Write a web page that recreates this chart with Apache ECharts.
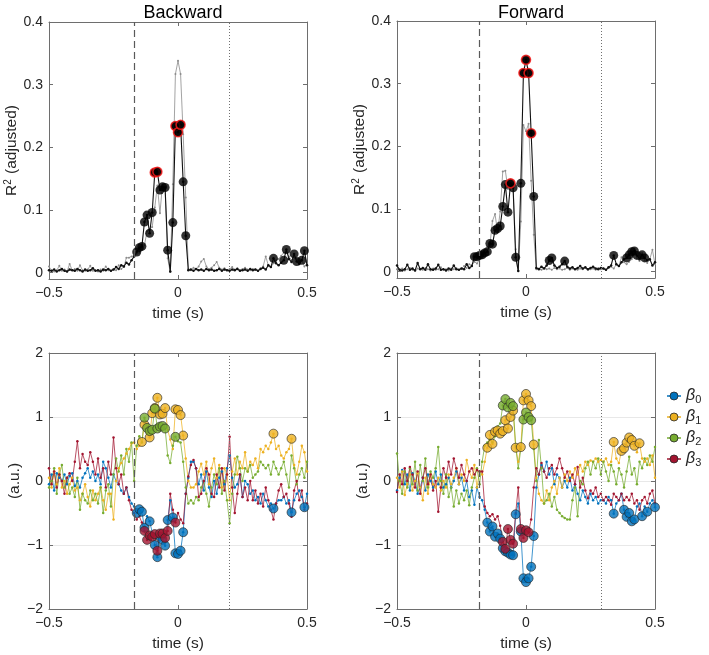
<!DOCTYPE html>
<html><head><meta charset="utf-8">
<script src="https://cdn.jsdelivr.net/npm/echarts@6/dist/echarts.min.js"></script>
<style>html,body{margin:0;padding:0;background:#fff}#c{width:709px;height:655px}</style>
</head><body><div id="c"></div>
<script>
// ---------- DATA ----------
const times = [-0.5,-0.49,-0.48,-0.47,-0.46,-0.45,-0.44,-0.43,-0.42,-0.41,
-0.4,-0.39,-0.38,-0.37,-0.36,-0.35,-0.34,-0.33,-0.32,-0.31,
-0.3,-0.29,-0.28,-0.27,-0.26,-0.25,-0.24,-0.23,-0.22,-0.21,
-0.2,-0.19,-0.18,-0.17,-0.16,-0.15,-0.14,-0.13,-0.12,-0.11,
-0.1,-0.09,-0.08,-0.07,-0.06,-0.05,-0.04,-0.03,-0.02,-0.01,
0,0.01,0.02,0.03,0.04,0.05,0.06,0.07,0.08,0.09,
0.1,0.11,0.12,0.13,0.14,0.15,0.16,0.17,0.18,0.19,
0.2,0.21,0.22,0.23,0.24,0.25,0.26,0.27,0.28,0.29,
0.3,0.31,0.32,0.33,0.34,0.35,0.36,0.37,0.38,0.39,
0.4,0.41,0.42,0.43,0.44,0.45,0.46,0.47,0.48,0.49,0.5];

const xTicks = [-0.5, 0, 0.5];
const r2Ticks = [0, 0.1, 0.2, 0.3, 0.4];
const betaTicks = [-2, -1, 0, 1, 2];
const betaNames = ['β0', 'β1', 'β2', 'β3'];

// onset (dashed) and offset (dotted) markers, seconds
const backwardOnset = -0.175, backwardOffset = 0.204;
const forwardOnset = -0.177, forwardOffset = 0.29;

const r2Backward = [
0.004,0.003,0.005,0.002,0.004,0.006,0.003,0.002,0.005,0.004,
0.003,0.006,0.004,0.002,0.005,0.003,0.004,0.007,0.003,0.004,
0.002,0.005,0.004,0.006,0.003,0.005,0.009,0.006,0.012,0.010,
0.016,0.013,0.020,0.026,0.033,0.040,0.042,0.081,0.092,0.063,
0.096,0.160,0.161,0.132,0.137,0.136,0.036,0.002,0.080,0.234,
0.224,0.236,0.145,0.059,0.004,0.005,0.003,0.006,0.004,0.005,
0.003,0.006,0.004,0.005,0.003,0.004,0.006,0.003,0.005,0.004,
0.003,0.005,0.004,0.006,0.003,0.004,0.005,0.003,0.006,0.004,
0.005,0.003,0.006,0.008,0.005,0.012,0.009,0.023,0.015,0.012,
0.016,0.020,0.037,0.022,0.017,0.030,0.018,0.014,0.020,0.035,0.012];
const r2BackwardSig = [34,35,36,37,38,39,40,41,42,43,44,45,46,48,49,50,51,52,53,87,91,92,95,96,98,99];
const r2BackwardTop = [41,42,49,50,51];

const r2Forward = [
0.010,0.003,0.002,0.004,0.011,0.003,0.005,0.002,0.014,0.004,
0.006,0.003,0.012,0.004,0.003,0.005,0.011,0.003,0.004,0.002,
0.005,0.003,0.010,0.004,0.003,0.005,0.004,0.012,0.006,0.009,
0.024,0.024,0.026,0.027,0.030,0.032,0.045,0.044,0.066,0.069,
0.073,0.104,0.139,0.095,0.141,0.134,0.023,0.001,0.141,0.317,
0.338,0.317,0.221,0.120,0.006,0.004,0.008,0.005,0.010,0.018,
0.022,0.010,0.006,0.008,0.012,0.017,0.008,0.005,0.007,0.004,
0.006,0.009,0.005,0.007,0.004,0.006,0.008,0.005,0.004,0.006,
0.005,0.003,0.007,0.010,0.026,0.012,0.009,0.015,0.020,0.022,
0.027,0.032,0.033,0.026,0.020,0.027,0.022,0.018,0.020,0.010,0.015];
const r2ForwardSig = [30,31,32,33,34,35,36,37,38,39,40,41,42,43,44,45,46,48,49,50,51,52,53,59,60,65,84,89,90,91,92,93,95,96];
const r2ForwardTop = [44,49,50,51,52];

// Backward betas
const bwBeta0 = [
-0.05,0.10,-0.15,0.12,0.05,0.00,0.10,-0.05,0.08,0.12,
-0.08,0.00,-0.10,0.05,0.12,0.20,0.05,0.15,0.00,0.10,
-0.05,0.30,0.20,0.05,-0.10,0.10,0.00,-0.05,-0.15,-0.20,
-0.10,-0.25,-0.35,-0.40,-0.50,-0.44,-0.48,-0.73,-0.55,-0.63,
-0.80,-1.00,-1.19,-0.87,-0.92,-1.01,-0.61,-0.30,-0.57,-1.13,
-1.14,-1.09,-0.80,-0.20,0.05,0.30,0.30,0.20,-0.05,0.10,
-0.15,0.15,-0.10,-0.25,0.00,-0.20,0.05,0.15,-0.05,0.20,
0.40,0.05,-0.10,-0.05,0.10,-0.25,0.00,-0.05,-0.20,-0.15,
-0.30,-0.25,-0.35,-0.20,-0.30,-0.40,-0.35,-0.43,-0.35,-0.30,
-0.30,-0.25,-0.35,-0.30,-0.49,-0.30,-0.20,-0.15,-0.25,-0.41,-0.20];
const bwBeta0Sig = [34,35,36,37,39,41,42,43,44,45,46,48,49,50,51,52,87,94,99];

const bwBeta1 = [
0.05,-0.10,0.15,-0.05,0.20,-0.10,0.00,-0.20,-0.05,0.05,
-0.15,-0.10,-0.30,-0.20,-0.05,-0.25,-0.40,-0.15,-0.30,-0.20,
-0.10,-0.30,-0.45,-0.20,-0.20,-0.60,0.00,0.20,0.28,0.35,
0.43,0.50,0.59,0.60,0.50,0.55,0.61,0.88,0.75,0.68,
1.06,1.14,1.30,1.04,1.05,1.14,0.80,0.65,0.50,1.12,
1.11,1.03,0.71,0.35,0.00,-0.10,-0.10,-0.05,0.15,0.27,
0.10,0.30,-0.05,0.20,0.35,0.05,0.25,-0.10,0.20,0.10,
-0.30,0.15,0.35,0.10,0.30,0.20,0.45,0.15,0.30,0.25,
0.35,0.20,0.50,0.45,0.55,0.50,0.60,0.74,0.50,0.55,
0.40,0.35,0.45,0.50,0.66,0.25,0.10,0.30,0.55,0.45,0.15];
const bwBeta1Sig = [36,37,39,40,41,42,43,44,45,49,50,51,52,87,94];

const bwBeta2 = [
-0.10,0.00,0.20,-0.20,0.10,0.25,-0.10,0.05,-0.20,-0.10,
-0.25,0.05,-0.45,-0.20,-0.30,-0.35,-0.15,-0.30,-0.20,-0.35,
-0.10,-0.50,-0.15,-0.05,-0.40,0.10,0.35,0.15,0.40,0.10,
0.50,0.30,0.60,0.00,0.55,0.70,0.60,0.99,0.83,0.78,
0.80,1.13,0.82,0.85,0.86,0.82,0.40,0.28,0.55,0.69,
0.62,0.60,0.30,-0.10,-0.35,-0.30,-0.35,-0.25,-0.30,-0.10,
0.00,-0.20,-0.40,-0.10,0.10,-0.05,0.20,-0.20,0.00,-0.30,
-0.66,-0.20,0.10,0.38,0.20,0.00,0.20,0.15,0.25,0.05,
0.10,0.15,0.30,0.25,0.20,0.25,0.10,0.30,0.20,0.10,
0.20,0.30,0.10,-0.10,0.40,0.20,-0.05,0.10,0.20,0.05,0.30];
const bwBeta2Sig = [37,38,39,40,41,42,43,44,45,49];

const bwBeta3 = [
0.20,-0.05,0.15,-0.10,0.10,0.00,-0.20,0.05,0.12,0.00,
0.30,0.62,0.20,0.42,0.30,0.25,0.45,0.30,0.10,0.35,
0.05,0.20,-0.10,0.30,0.10,0.68,0.20,-0.05,0.10,-0.20,
-0.10,-0.30,-0.45,-0.50,-0.60,-0.55,-0.65,-0.78,-0.92,-0.85,
-0.87,-0.83,-1.09,-0.82,-0.82,-0.89,-0.78,-0.20,-0.45,-0.65,
-0.50,-0.60,-0.66,-0.20,0.07,0.25,0.33,0.20,-0.25,-0.20,
0.00,0.20,0.10,-0.20,-0.25,0.10,-0.10,0.20,-0.15,0.10,
0.69,-0.10,-0.50,-0.20,0.10,-0.25,-0.10,-0.30,0.00,-0.30,
-0.15,-0.35,-0.20,-0.40,-0.10,-0.30,-0.45,-0.60,-0.35,-0.15,
-0.05,-0.25,-0.20,-0.35,-0.56,-0.15,0.00,-0.30,-0.15,-0.45,-0.35];
const bwBeta3Sig = [37,38,39,40,41,42,43,44,45,46,49];

// Forward betas
const fwBeta0 = [
-0.15,0.05,0.17,-0.05,0.10,-0.15,0.12,0.00,-0.20,-0.10,
0.05,-0.15,0.10,0.00,-0.10,0.15,-0.05,0.10,-0.10,-0.05,
0.05,-0.10,0.00,0.15,-0.05,0.05,-0.15,0.00,-0.25,-0.15,
-0.37,-0.10,-0.25,-0.30,-0.45,-0.65,-0.79,-0.71,-0.87,-0.82,
-0.90,-1.05,-1.10,-1.12,-1.15,-1.16,-0.52,-0.35,-0.79,-1.52,
-1.58,-1.52,-1.34,-0.86,-0.10,0.10,0.25,0.15,0.30,0.10,
0.20,-0.05,0.10,0.05,-0.10,0.00,-0.10,0.05,-0.15,-0.05,
-0.20,-0.30,-0.15,-0.25,-0.35,-0.20,-0.30,-0.25,-0.35,-0.30,
-0.30,-0.35,-0.25,-0.30,-0.51,-0.35,-0.30,-0.20,-0.45,-0.56,
-0.50,-0.63,-0.60,-0.40,-0.35,-0.55,-0.40,-0.48,-0.35,-0.30,-0.41];
const fwBeta0Sig = [35,36,37,38,39,40,41,42,43,44,45,46,48,49,50,51,52,53,84,88,89,90,91,92,95,97,100];

const fwBeta1 = [
0.05,-0.10,0.15,-0.22,-0.05,0.10,-0.15,0.00,0.12,-0.10,
-0.30,0.05,-0.20,0.10,-0.05,-0.10,0.05,-0.15,0.00,-0.10,
0.10,-0.05,0.05,0.20,-0.05,0.10,0.00,0.33,0.15,0.05,
0.25,-0.10,0.15,0.10,0.30,0.52,0.72,0.58,0.77,0.79,
0.74,0.78,0.95,0.82,1.00,1.10,0.52,0.30,0.53,1.26,
1.36,1.26,1.17,0.57,0.05,-0.20,-0.30,-0.35,-0.15,-0.30,
-0.10,0.00,-0.20,0.05,-0.10,0.10,0.00,0.15,0.05,0.20,
0.10,0.25,0.15,0.30,0.25,0.32,0.30,0.35,0.30,0.33,
0.30,0.35,0.25,0.30,0.61,0.35,0.28,0.47,0.51,0.60,
0.68,0.64,0.55,0.45,0.59,0.35,0.30,0.35,0.25,0.40,0.05];
const fwBeta1Sig = [35,36,37,38,39,40,41,42,43,44,45,46,48,49,50,51,52,53,84,87,88,89,90,91,92,94];

const fwBeta2 = [
0.43,0.00,-0.20,0.15,-0.10,0.20,-0.05,0.30,-0.15,0.25,
0.00,0.35,-0.10,0.15,0.05,0.20,0.53,0.00,-0.20,0.10,
-0.25,-0.10,-0.40,-0.15,-0.35,-0.20,-0.30,-0.15,-0.38,-0.10,
0.05,0.20,-0.05,0.30,0.55,0.60,0.65,0.60,0.70,0.85,
0.90,1.18,1.28,1.15,1.22,1.17,0.55,0.20,0.50,0.96,
1.07,1.00,0.95,0.50,0.00,0.64,0.20,-0.35,-0.30,-0.20,
-0.40,-0.25,-0.45,-0.50,-0.55,-0.58,-0.60,-0.60,-0.30,-0.10,
-0.55,0.00,-0.05,0.20,0.30,0.10,0.30,0.20,0.35,0.10,
0.30,0.15,0.00,0.25,0.15,-0.05,0.20,0.10,-0.10,0.15,
0.38,0.10,0.20,-0.05,0.30,0.20,0.35,0.25,0.40,0.30,0.53];
const fwBeta2Sig = [41,42,43,44,45,49,50,51,52];

const fwBeta3 = [
-0.17,0.10,-0.05,0.20,0.00,0.22,0.10,-0.10,0.15,-0.20,
0.05,0.20,-0.05,0.10,-0.15,0.00,-0.48,-0.10,0.20,0.05,
0.30,0.10,0.35,0.20,0.05,0.25,0.10,0.00,0.15,0.20,
0.10,0.17,0.15,0.15,-0.40,-0.50,-0.55,-0.52,-0.60,-0.55,
-0.70,-0.95,-1.06,-0.75,-0.92,-0.98,-0.50,-0.10,-0.75,-0.89,
-0.77,-0.80,-0.60,-0.10,0.20,0.10,0.28,0.15,0.05,0.20,
0.25,0.10,0.20,0.35,0.20,0.05,0.15,0.00,0.10,-0.05,
0.22,-0.10,0.05,-0.15,-0.27,-0.15,-0.20,-0.10,-0.25,-0.20,
-0.30,-0.25,-0.30,-0.37,-0.20,-0.25,-0.30,-0.20,-0.30,-0.25,
-0.30,-0.20,-0.35,-0.30,-0.45,-0.30,-0.25,-0.35,-0.20,-0.15,-0.35];
const fwBeta3Sig = [41,42,43,44,45,48,49,50,51];

// ---------- STYLE ----------
const FONT = "'Liberation Sans', Arial, Helvetica, sans-serif";
const TXT = '#262626';
const AX = '#6e6e6e';
const COLORS = ['#0072BD', '#EDB120', '#77AC30', '#A2142F'];
const TICK_FS = 14, NAME_FS = 15.5;

const grids = [
  {left: 49, top: 22, width: 258, height: 257},
  {left: 397, top: 21, width: 258, height: 257},
  {left: 49, top: 353, width: 258, height: 256},
  {left: 397, top: 353, width: 258, height: 256}
].map(g => Object.assign({outerBoundsMode: 'none', containLabel: false}, g));

const fmt = v => (v < 0 ? '\u2212' : '') + String(Math.abs(v));

const xAxes = [], yAxes = [];
[0, 1].forEach(side => {
  grids.forEach((g, k) => {
    const main = side === 0;
    xAxes.push({
      type: 'value', gridIndex: k, min: xTicks[0], max: xTicks[2], interval: 0.5,
      position: main ? 'bottom' : 'top',
      axisLine: {show: true, onZero: false, lineStyle: {color: AX, width: 1}},
      axisTick: {show: true, inside: true, length: 4, lineStyle: {color: AX}},
      axisLabel: {show: main, formatter: fmt, fontSize: TICK_FS, color: TXT, fontFamily: FONT, margin: 7},
      splitLine: {show: false},
      name: main ? 'time (s)' : '', nameLocation: 'middle', nameGap: 27,
      nameTextStyle: {fontSize: NAME_FS, color: TXT, fontFamily: FONT}
    });
    const top = k < 2;
    const y = {
      type: 'value', gridIndex: k,
      position: main ? 'left' : 'right',
      axisLine: {show: true, onZero: false, lineStyle: {color: AX, width: 1}},
      axisTick: {show: true, inside: true, length: 4, lineStyle: {color: AX}},
      axisLabel: {show: main, formatter: fmt, fontSize: TICK_FS, color: TXT, fontFamily: FONT, margin: 6},
      splitLine: {show: false}
    };
    if (top) {
      y.min = -0.01; y.max = 0.4;
      y.axisLabel.customValues = r2Ticks;
      y.axisTick.customValues = r2Ticks;
      if (main) {
        y.name = '{n|R}{sup|2}{n| (adjusted)}';
        y.nameLocation = 'middle'; y.nameGap = 27;
        y.nameTextStyle = {fontFamily: FONT, color: TXT, rich: {
          n: {fontSize: NAME_FS, fontFamily: FONT, color: TXT},
          sup: {fontSize: 10, fontFamily: FONT, color: TXT, verticalAlign: 'top', padding: [0, 1, 6, 0]}
        }};
      }
    } else {
      y.min = betaTicks[0]; y.max = betaTicks[betaTicks.length - 1]; y.interval = 1;
      if (main) {
        y.splitLine = {show: true, lineStyle: {color: '#e8e8e8', width: 1}};
        y.name = '(a.u.)'; y.nameLocation = 'middle'; y.nameGap = 22;
        y.nameTextStyle = {fontSize: NAME_FS, color: TXT, fontFamily: FONT};
      }
    }
    yAxes.push(y);
  });
});

const pts = arr => arr.map((v, i) => [times[i], v]);
const sigPts = (arr, idx) => idx.map(i => [times[i], arr[i]]);

const vlines = (a, b) => ({
  silent: true, symbol: ['none', 'none'], label: {show: false}, animation: false,
  data: [
    {xAxis: a, lineStyle: {type: [7, 4], color: '#5a5a5a', width: 1.2}},
    {xAxis: b, lineStyle: {type: [1, 2], color: '#707070', width: 1}}
  ]
});

const series = [];
function r2Panel(k, main, other, sig, topSig, on, off) {
  series.push({
    type: 'line', xAxisIndex: k, yAxisIndex: k, data: pts(other),
    symbol: 'circle', symbolSize: 2, showAllSymbol: true,
    lineStyle: {color: '#8c8c8c', width: 0.8}, itemStyle: {color: '#8c8c8c'},
    markLine: vlines(on, off), z: 2, silent: true
  });
  series.push({
    type: 'line', xAxisIndex: k, yAxisIndex: k, data: pts(main),
    symbol: 'circle', symbolSize: 2.5, showAllSymbol: true,
    lineStyle: {color: '#111', width: 1.1}, itemStyle: {color: '#111'}, z: 3, silent: true
  });
  series.push({
    type: 'scatter', xAxisIndex: k, yAxisIndex: k, data: sigPts(main, sig),
    symbolSize: 9, itemStyle: {color: '#000'}, z: 4, silent: true
  });
  series.push({
    type: 'scatter', xAxisIndex: k, yAxisIndex: k, data: sigPts(main, topSig),
    symbolSize: 9, itemStyle: {color: '#000', borderColor: '#ff1a1a', borderWidth: 1.6}, z: 5, silent: true
  });
}
r2Panel(0, r2Backward, r2Forward, r2BackwardSig, r2BackwardTop, backwardOnset, backwardOffset);
r2Panel(1, r2Forward, r2Backward, r2ForwardSig, r2ForwardTop, forwardOnset, forwardOffset);

function betaPanel(k, betas, sigs, on, off) {
  betas.forEach((b, j) => {
    series.push({
      name: betaNames[j], type: 'line', xAxisIndex: k, yAxisIndex: k, data: pts(b),
      symbol: 'circle', symbolSize: 2.5, showAllSymbol: true,
      lineStyle: {color: COLORS[j], width: 1, opacity: 0.75},
      itemStyle: {color: COLORS[j]}, z: 2, silent: true,
      markLine: j === 0 ? vlines(on, off) : undefined
    });
  });
  betas.forEach((b, j) => {
    series.push({
      name: 'sig' + j, type: 'scatter', xAxisIndex: k, yAxisIndex: k, data: sigPts(b, sigs[j]),
      symbolSize: 9, itemStyle: {color: COLORS[j], borderColor: '#262626', borderWidth: 0.8}, z: 4, silent: true
    });
  });
}
betaPanel(2, [bwBeta0, bwBeta1, bwBeta2, bwBeta3], [bwBeta0Sig, bwBeta1Sig, bwBeta2Sig, bwBeta3Sig], backwardOnset, backwardOffset);
betaPanel(3, [fwBeta0, fwBeta1, fwBeta2, fwBeta3], [fwBeta0Sig, fwBeta1Sig, fwBeta2Sig, fwBeta3Sig], forwardOnset, forwardOffset);

const chart = echarts.init(document.getElementById('c'), null, {renderer: 'canvas'});
chart.setOption({
  animation: false,
  backgroundColor: '#fff',
  title: [
    {text: 'Backward', left: 178, top: -1, textAlign: 'center', textStyle: {fontSize: 18, fontWeight: 'normal', color: '#000', fontFamily: FONT}},
    {text: 'Forward', left: 526, top: -1, textAlign: 'center', textStyle: {fontSize: 18, fontWeight: 'normal', color: '#000', fontFamily: FONT}}
  ],
  legend: {
    data: betaNames, orient: 'vertical', left: 661, top: 383,
    itemWidth: 14, itemHeight: 10, itemGap: 4, selectedMode: false,
    itemStyle: {borderColor: '#262626', borderWidth: 0.8},
    formatter: n => '{b|β}{s|' + n.slice(1) + '}',
    textStyle: {color: TXT, fontFamily: FONT, rich: {
      b: {fontSize: 16, fontStyle: 'italic', fontFamily: FONT, color: TXT},
      s: {fontSize: 11, fontFamily: FONT, color: TXT, verticalAlign: 'bottom', padding: [7, 0, 0, 0]}
    }}
  },
  grid: grids,
  xAxis: xAxes,
  yAxis: yAxes,
  series: series
});
</script>
</body></html>
